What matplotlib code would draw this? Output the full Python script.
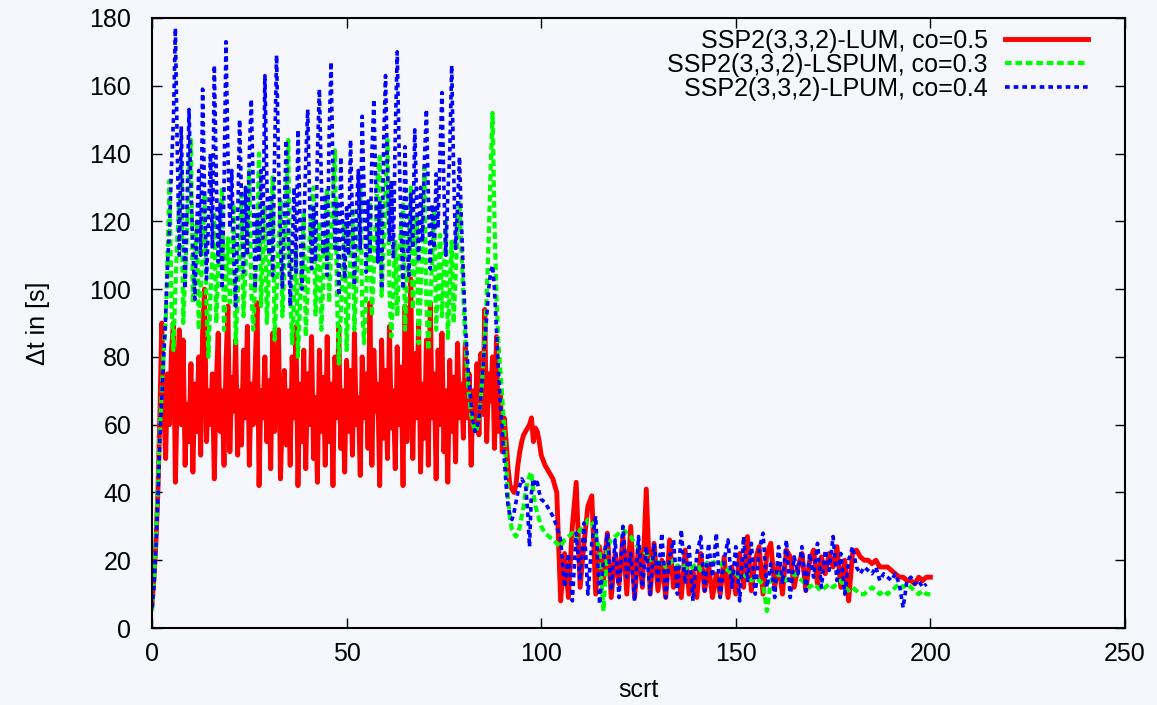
import numpy as np
import matplotlib
matplotlib.use("Agg")
import matplotlib.pyplot as plt

# sampling grid: half steps up to 100, whole steps afterwards
scrt_fine = np.arange(0, 100, 0.5)
scrt_coarse = np.arange(100, 201, 1.0)
scrt = np.concatenate([scrt_fine, scrt_coarse])

lum_dt = [
    # 0 .. 99.5 (step 0.5)
    7, 15, 25, 40, 62, 90, 65, 50, 75, 60, 82, 90, 43, 70, 88, 60, 85, 48, 66, 55,
    78, 46, 72, 58, 80, 51, 88, 100, 55, 70, 60, 75, 44, 72, 87, 58, 70, 48, 78, 95,
    52, 74, 64, 85, 51, 70, 54, 82, 62, 89, 48, 72, 60, 77, 96, 42, 70, 62, 80, 55,
    73, 47, 87, 58, 75, 88, 44, 64, 76, 54, 70, 48, 80, 62, 89, 42, 72, 55, 82, 47,
    75, 60, 86, 50, 68, 43, 82, 58, 74, 48, 86, 55, 72, 42, 80, 62, 89, 53, 70, 46,
    79, 58, 76, 51, 87, 60, 68, 45, 80, 62, 75, 53, 96, 48, 82, 64, 72, 42, 85, 56,
    76, 50, 89, 59, 70, 47, 83, 60, 77, 42, 95, 55, 74, 103, 50, 81, 62, 90, 46, 72,
    56, 85, 48, 96, 62, 75, 44, 82, 60, 87, 52, 70, 43, 79, 58, 74, 49, 84, 62, 72,
    56, 84, 62, 75, 48, 70, 60, 78, 57, 81, 63, 94, 55, 75, 67, 80, 53, 86, 58, 70,
    52, 62, 55, 47, 42, 41, 40, 42, 48, 52, 55, 57, 58, 59, 60, 62, 55, 59, 58, 55,
    # 100 .. 200 (step 1)
    51, 48, 46, 44, 40, 8, 22, 9, 30, 43, 12, 25, 36, 39, 10, 24, 14, 28, 9, 22,
    13, 27, 10, 30, 9, 24, 12, 41, 10, 25, 11, 20, 9, 26, 12, 18, 9, 23, 10, 17,
    9, 22, 11, 19, 9, 16, 10, 21, 9, 18, 10, 22, 12, 27, 11, 20, 24, 10, 22, 25,
    12, 19, 10, 23, 21, 12, 18, 22, 11, 20, 23, 13, 21, 16, 22, 18, 24, 12, 20, 8,
    22, 23, 21, 20, 20, 19, 20, 18, 18, 18, 17, 16, 15, 15, 14, 14, 13, 15, 14, 15,
    15,
]

lspum_dt = [
    # 0 .. 99.5 (step 0.5)
    5, 14, 26, 42, 58, 70, 82, 90, 110, 132, 95, 82, 100, 115, 125, 138, 90, 104, 118, 135,
    144, 96, 108, 120, 88, 100, 112, 128, 95, 80, 98, 110, 122, 90, 105, 118, 130, 88, 102, 115,
    96, 110, 125, 84, 98, 112, 128, 92, 106, 120, 135, 100, 88, 102, 116, 140, 95, 110, 124, 90,
    104, 118, 133, 85, 99, 112, 126, 92, 106, 128, 144, 100, 84, 98, 112, 80, 95, 108, 122, 86,
    100, 114, 126, 130, 92, 106, 120, 88, 102, 116, 130, 96, 112, 128, 141, 100, 78, 92, 106, 120,
    82, 97, 110, 124, 88, 102, 116, 130, 94, 84, 98, 112, 126, 92, 106, 120, 134, 139, 98, 112,
    128, 144, 100, 86, 100, 114, 92, 106, 120, 125, 88, 102, 116, 130, 94, 108, 122, 84, 98, 112,
    136, 96, 82, 96, 110, 124, 88, 102, 116, 92, 106, 120, 85, 100, 114, 90, 104, 118, 126, 112,
    98, 85, 75, 68, 63, 60, 58, 59, 62, 68, 76, 86, 98, 115, 135, 152, 120, 98, 84, 76,
    68, 58, 48, 38, 32, 29, 28, 27, 28, 30, 33, 36, 40, 43, 45, 46, 40, 36, 34, 32,
    # 100 .. 200 (step 1)
    30, 28, 27, 26, 25, 24, 26, 27, 28, 26, 29, 30, 32, 31, 28, 22, 5, 24, 26, 27,
    28, 29, 28, 27, 25, 24, 23, 22, 20, 21, 19, 20, 18, 19, 20, 18, 19, 18, 17, 18,
    19, 17, 18, 20, 19, 20, 19, 18, 17, 16, 16, 15, 15, 16, 14, 15, 14, 13, 5, 14,
    15, 16, 15, 14, 15, 16, 15, 14, 13, 12, 13, 12, 11, 12, 13, 12, 13, 14, 12, 11,
    12, 11, 10, 10, 11, 12, 11, 10, 11, 10, 11, 12, 13, 12, 13, 12, 11, 10, 11, 10,
    10,
]

lpum_dt = [
    # 0 .. 99.5 (step 0.5)
    6, 12, 24, 38, 55, 68, 80, 92, 108, 118, 136, 150, 177, 140, 110, 148, 120, 100, 125, 153,
    130, 112, 97, 118, 135, 110, 159, 128, 103, 120, 140, 112, 166, 134, 108, 125, 100, 130, 173, 140,
    118, 135, 110, 95, 120, 150, 126, 105, 130, 110, 140, 156, 130, 100, 122, 108, 135, 115, 163, 132,
    110, 128, 104, 140, 169, 138, 115, 100, 124, 144, 118, 95, 112, 130, 105, 147, 122, 100, 118, 138,
    153, 126, 106, 124, 108, 140, 159, 132, 110, 128, 104, 145, 167, 134, 112, 126, 98, 139, 118, 103,
    124, 110, 144, 120, 101, 122, 135, 112, 151, 128, 105, 126, 110, 140, 156, 130, 108, 126, 100, 142,
    163, 135, 114, 132, 109, 146, 170, 140, 118, 100, 142, 120, 104, 128, 112, 147, 126, 108, 130, 114,
    138, 153, 128, 106, 125, 112, 134, 118, 140, 158, 130, 110, 128, 140, 166, 135, 112, 124, 139, 120,
    104, 90, 80, 72, 66, 61, 58, 59, 62, 68, 76, 84, 92, 100, 105, 107, 100, 88, 76, 66,
    58, 50, 42, 36, 33, 32, 34, 37, 40, 42, 44, 43, 42, 35, 24, 40, 44, 42, 43, 40,
    # 100 .. 199 (step 1)
    38, 37, 35, 33, 30, 26, 12, 22, 8, 28, 14, 31, 10, 25, 33, 7, 20, 28, 11, 26,
    9, 30, 15, 22, 8, 27, 12, 24, 10, 25, 14, 28, 9, 21, 26, 10, 29, 13, 24, 8,
    22, 27, 11, 25, 15, 28, 9, 20, 26, 12, 24, 8, 27, 14, 25, 10, 23, 28, 12, 19,
    9, 24, 13, 26, 9, 21, 16, 24, 11, 22, 15, 25, 12, 23, 17, 27, 14, 22, 10, 20,
    24, 18, 16, 18, 17, 16, 18, 14, 16, 15, 14, 16, 13, 6, 14, 15, 13, 14, 12, 13,
]

labels = [
    "SSP2(3,3,2)-LUM, co=0.5",
    "SSP2(3,3,2)-LSPUM, co=0.3",
    "SSP2(3,3,2)-LPUM, co=0.4",
]

bg = "#f5f7fd"
plt.rcParams["font.family"] = ["Liberation Sans", "DejaVu Sans"]
plt.rcParams["font.size"] = 18

fig = plt.figure(figsize=(11.57, 7.05), dpi=100)
fig.set_facecolor(bg)
ax = fig.add_axes([0.1314, 0.1092, 0.8409, 0.8653])
ax.set_facecolor(bg)

# gnuplot draws in order, so the blue one ends up on top
ax.plot(scrt[: len(lum_dt)], lum_dt, color="#ff0000", lw=3.5, label=labels[0])
ax.plot(scrt[: len(lspum_dt)], lspum_dt, color="#00ff00", lw=3.0,
        linestyle=(0, (1.6, 0.9)), label=labels[1])
ax.plot(scrt[: len(lpum_dt)], lpum_dt, color="#0000ff", lw=2.6,
        linestyle=(0, (1.3, 1.1)), label=labels[2])

ax.set_xlim(0, 250)
ax.set_ylim(0, 180)
ax.set_xticks(np.arange(0, 251, 50))
ax.set_yticks(np.arange(0, 181, 20))
ax.tick_params(direction="in", top=True, right=True, length=7, width=1,
               labelsize=18)
ax.tick_params(axis="y", pad=15)
ax.tick_params(axis="x", pad=10)
for sp in ax.spines.values():
    sp.set_linewidth(1.5)

ax.set_xlabel("scrt", fontsize=18)
ax.set_ylabel("\u0394t in [s]", fontsize=18)
ax.xaxis.label.set_va("center")
ax.yaxis.label.set_va("center")
ax.xaxis.set_label_coords(0.4995, -0.102)
ax.yaxis.set_label_coords(-0.117, 0.5)

leg = ax.legend(loc="upper right", bbox_to_anchor=(0.962, 0.982),
                frameon=False, markerfirst=False, fontsize=18,
                handlelength=3.3, handletextpad=0.7, labelspacing=0.0,
                borderpad=0, borderaxespad=0)
# right-align the entries so the samples line up, gnuplot style
for col in leg._legend_handle_box.get_children():
    col.align = "right"

fig.savefig("out.png", dpi=100, facecolor=bg)
